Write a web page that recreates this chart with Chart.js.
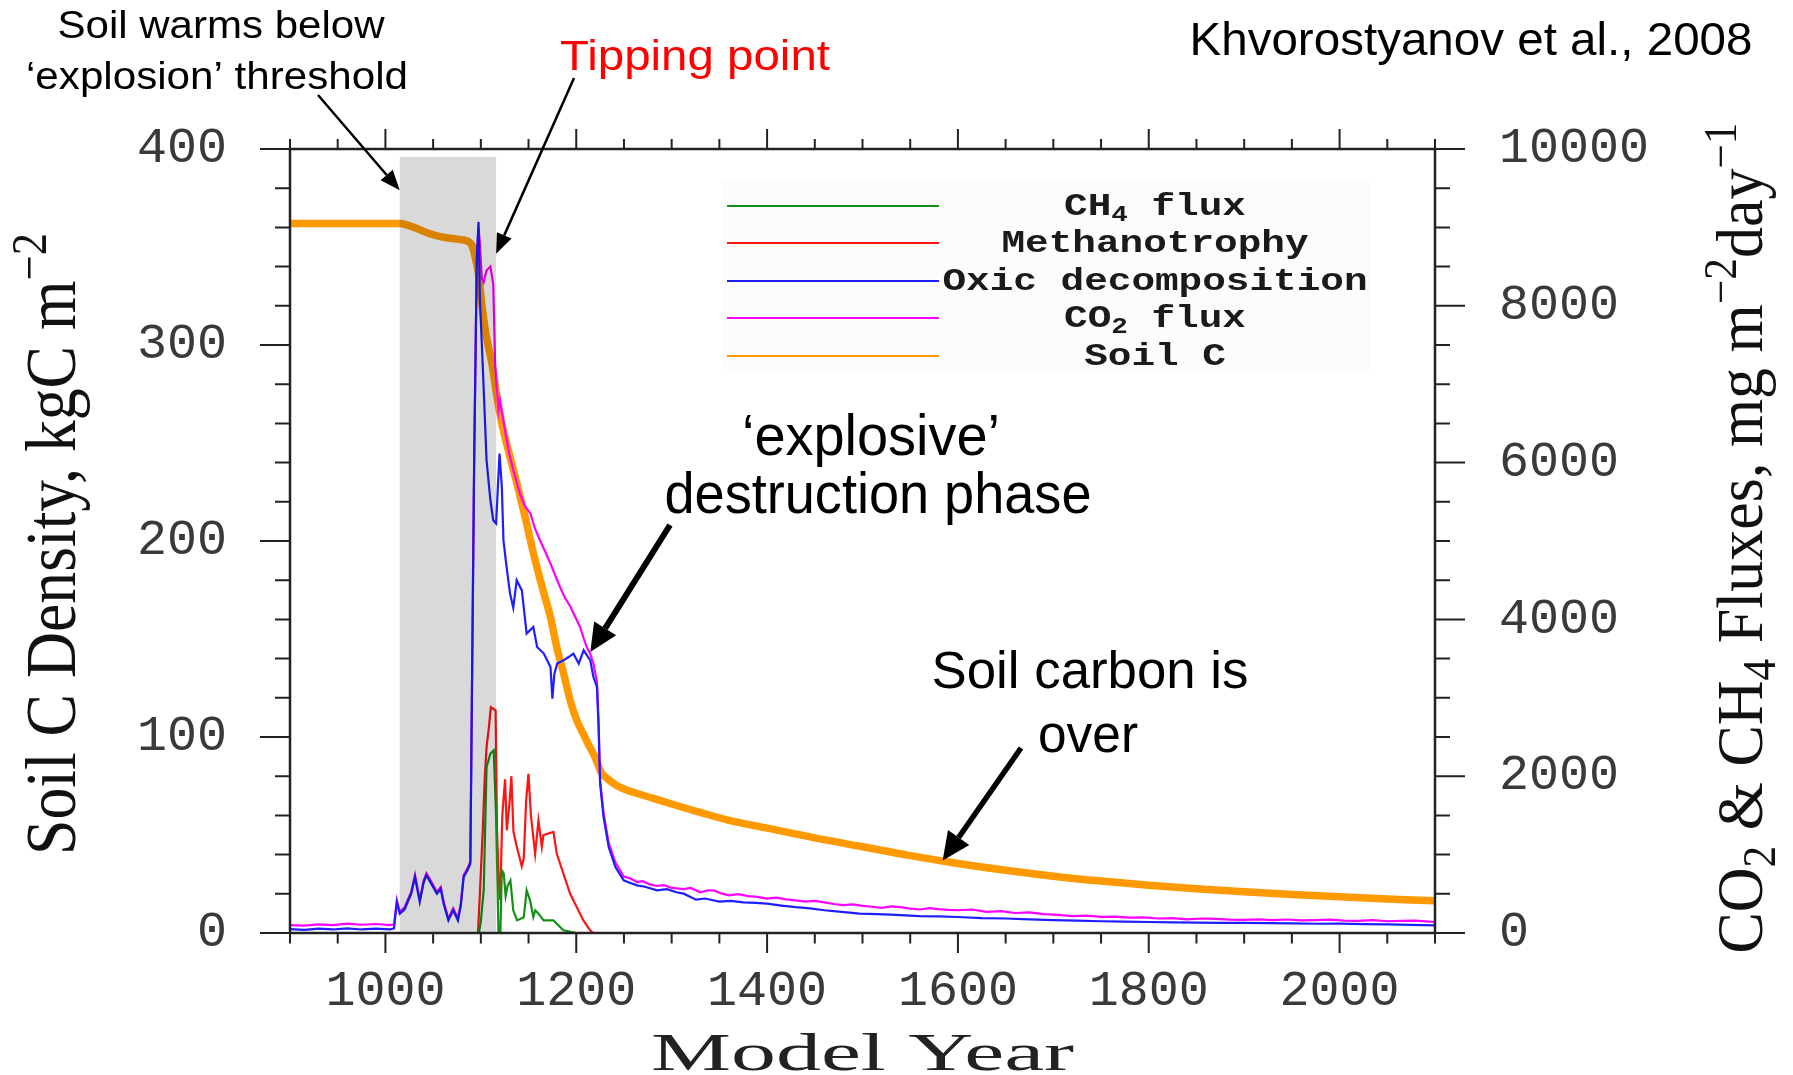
<!DOCTYPE html>
<html>
<head>
<meta charset="utf-8">
<title>Soil carbon explosion</title>
<script src="https://cdn.jsdelivr.net/npm/chart.js@4.4.1/dist/chart.umd.min.js"></script>
<style>
  html, body { margin: 0; padding: 0; background: #fff; overflow: hidden; }
  canvas { display: block; }
</style>
</head>
<body>
<canvas id="soil-chart" width="1793" height="1075"></canvas>
<script>
// values (Khvorostyanov et al., 2008)

// Soil C density, kgC m-2 (left axis)
const soilYears = [900, 1015, 1030, 1045, 1060, 1075, 1086, 1091, 1094, 1097.6, 1101, 1104.7, 1108, 1111.6, 1117, 1122, 1130, 1138, 1147, 1155, 1164, 1173, 1180, 1187, 1194, 1201, 1208, 1214, 1218, 1222, 1226, 1232, 1240, 1250, 1260, 1280, 1300, 1330, 1360, 1400, 1450, 1500, 1550, 1600, 1650, 1700, 1750, 1800, 1850, 1900, 1950, 2000, 2050, 2100];
const soilC = [362, 362, 360, 357, 355, 354, 353, 350.5, 345, 336, 321, 307.5, 299, 290.5, 273.5, 260, 244, 229, 211, 194, 177, 161, 145, 132, 118, 108, 101, 95, 91.5, 87, 82, 79, 76, 73.5, 71.8, 68.8, 65.8, 61.5, 57.5, 53.5, 48.5, 44, 39.5, 35.5, 32, 29, 26.5, 24.4, 22.6, 21, 19.7, 18.5, 17.4, 16.4];

// Oxic decomposition, mg m-2 day-1 (right axis)
const oxicYears = [900, 915, 930, 945, 960, 975, 990, 1005, 1009, 1012, 1015, 1020, 1027, 1031, 1036, 1040, 1043, 1048, 1054, 1058, 1061, 1066, 1071, 1076, 1079, 1082, 1086, 1089, 1091, 1093, 1095.8, 1097.6, 1099, 1102.8, 1106, 1110, 1113, 1116, 1119.6, 1122, 1123.7, 1127, 1130.6, 1134, 1137.6, 1143, 1148, 1155, 1159, 1166, 1173, 1175, 1177, 1180, 1186.7, 1192, 1197, 1202.6, 1207.8, 1214.7, 1218, 1221.7, 1223.4, 1225, 1228.6, 1234, 1241, 1249.7, 1256, 1263.7, 1272, 1284.7, 1295, 1305, 1312.6, 1325.5, 1335, 1350, 1362, 1375, 1388, 1400, 1415, 1430, 1445, 1460, 1478, 1497, 1515, 1530, 1545, 1560, 1580, 1600, 1625, 1650, 1675, 1700, 1725, 1750, 1775, 1800, 1825, 1850, 1875, 1900, 1925, 1950, 1975, 2000, 2025, 2050, 2075, 2100];
const oxicFlux = [50, 40, 55, 45, 60, 45, 55, 45, 60, 395, 246, 300, 500, 714, 395, 640, 735, 630, 500, 560, 374, 161, 289, 161, 350, 714, 800, 884, 3455, 6000, 8600, 9070, 8100, 7000, 6030, 5520, 5263, 5222, 6115, 5690, 5009, 4668, 4329, 4150, 4500, 4370, 3819, 3903, 3648, 3564, 3393, 2990, 3300, 3436, 3478, 3520, 3564, 3436, 3606, 3478, 3265, 3138, 2628, 1905, 1480, 1097, 842, 672, 640, 608, 590, 545, 560, 520, 502, 425, 440, 400, 410, 390, 385, 374, 350, 330, 315, 290, 270, 247, 240, 235, 225, 215, 212, 204, 190, 185, 175, 165, 158, 150, 145, 140, 135, 132, 130, 128, 126, 124, 118, 120, 112, 110, 104, 98];

// CO2 flux
const co2Years = [900, 915, 930, 945, 960, 975, 990, 1005, 1009, 1012, 1015, 1020, 1027, 1031, 1036, 1040, 1043, 1048, 1054, 1058, 1061, 1066, 1071, 1076, 1079, 1082, 1086, 1089, 1091, 1093, 1095.8, 1097.6, 1099, 1101, 1103, 1106, 1110, 1113, 1115, 1118.5, 1120, 1125.5, 1130, 1134, 1141, 1146, 1152, 1157, 1162, 1168, 1173, 1178, 1183, 1188, 1194, 1199, 1204, 1208, 1211, 1214.7, 1218, 1221.7, 1223.4, 1225, 1228.6, 1234, 1241, 1249.7, 1256, 1263.7, 1270, 1277, 1284.7, 1292, 1300, 1312.6, 1320, 1330, 1338, 1345, 1352, 1360, 1370, 1380, 1390, 1400, 1410, 1420, 1430, 1440, 1450, 1460, 1470, 1480, 1490, 1500, 1510, 1520, 1530, 1540, 1550, 1560, 1570, 1580, 1590, 1600, 1615, 1630, 1645, 1660, 1675, 1690, 1705, 1720, 1735, 1750, 1765, 1780, 1795, 1810, 1825, 1840, 1855, 1870, 1885, 1900, 1915, 1930, 1945, 1960, 1975, 1990, 2005, 2020, 2035, 2050, 2065, 2080, 2090, 2100];
const co2Flux = [100, 95, 110, 100, 120, 105, 115, 100, 110, 420, 270, 325, 525, 740, 420, 665, 760, 655, 525, 585, 400, 185, 315, 185, 375, 740, 825, 910, 3500, 6050, 8650, 9000, 8800, 8350, 8300, 8450, 8500, 8280, 7263, 6667, 6795, 6400, 6100, 5902, 5604, 5450, 5349, 5150, 5009, 4850, 4711, 4560, 4414, 4280, 4158, 4030, 3903, 3750, 3648, 3560, 3436, 3200, 2700, 1950, 1530, 1150, 900, 720, 700, 650, 660, 620, 600, 610, 575, 560, 575, 520, 545, 540, 505, 480, 495, 470, 460, 438, 450, 430, 415, 400, 410, 390, 370, 355, 365, 345, 335, 320, 340, 330, 310, 300, 318, 305, 295, 290, 300, 270, 280, 255, 262, 240, 230, 215, 222, 205, 210, 195, 200, 185, 190, 175, 185, 180, 170, 168, 175, 165, 172, 160, 165, 170, 158, 155, 163, 150, 155, 158, 148, 140];

// Methanotrophy
const methYears = [1097, 1099, 1102, 1104, 1106, 1108.5, 1110.5, 1115.5, 1117, 1119, 1120.3, 1122.5, 1125.4, 1127.2, 1130, 1132, 1134.2, 1137.7, 1142.9, 1145, 1147.5, 1149.9, 1152.5, 1156.9, 1160.4, 1163.9, 1165.6, 1176.1, 1179.6, 1193.6, 1207.5, 1214.5, 1218];
const methFlux = [0, 500, 1300, 1950, 2370, 2625, 2880, 2840, 1300, 600, 420, 1500, 1960, 1310, 1650, 2000, 1290, 1100, 850, 950, 1690, 2030, 1500, 1010, 1436, 1100, 1250, 1290, 1010, 500, 160, 34, 0];

// CH4 flux
const ch4Years = [1098, 1100, 1103, 1106, 1110, 1113.5, 1116, 1117.5, 1118.5, 1120.5, 1122, 1124, 1126, 1128, 1131, 1134, 1138, 1145, 1148, 1151.6, 1155, 1157, 1160.5, 1165.7, 1176, 1186.6, 1200];
const ch4Flux = [0, 150, 544, 2116, 2286, 2330, 1500, 600, 0, 0, 800, 760, 470, 600, 670, 289, 161, 200, 544, 416, 204, 290, 246, 161, 161, 34, 0];

// axes
const yearTicks = [1000, 1200, 1400, 1600, 1800, 2000];
const soilTicks = [0, 100, 200, 300, 400];
const fluxTicks = [0, 2000, 4000, 6000, 8000, 10000];
const yearMinorStep = 50, soilMinorStep = 20, fluxMinorStep = 500;

// grey band: years 1015-1116, up to 396 kgC m-2
const bandYears = [1015, 1116];
const bandTop = 396;

const SANS = '"Liberation Sans", Arial, sans-serif';
const SERIF = '"Liberation Serif", "Times New Roman", serif';
const MONO = '"Liberation Mono", "Courier New", monospace';

function pts(xs, ys) {
  return xs.map((x, i) => ({ x: x, y: ys[i] }));
}

// text with sub/superscripts, squeezed or stretched to a given width
function drawRich(ctx, parts, x, y, o) {
  const fontFor = kind => (o.weight || 'normal') + ' ' + (kind ? o.size * 0.7 : o.size) + 'px ' + o.family;
  let w = 0;
  parts.forEach(p => { ctx.font = fontFor(p[1]); w += ctx.measureText(p[0]).width; });
  const sx = o.width ? o.width / w : (o.sx || 1);
  ctx.save();
  ctx.translate(x, y);
  if (o.rotate) ctx.rotate(o.rotate);
  ctx.scale(sx, 1);
  ctx.fillStyle = o.color || '#000';
  ctx.textBaseline = 'alphabetic';
  ctx.textAlign = 'left';
  let cx = -w / 2;
  parts.forEach(p => {
    ctx.font = fontFor(p[1]);
    const dy = p[1] === 'sub' ? o.size * 0.2 : p[1] === 'sup' ? -o.size * 0.4 : 0;
    ctx.fillText(p[0], cx, dy);
    cx += ctx.measureText(p[0]).width;
  });
  ctx.restore();
}

function drawArrow(ctx, x0, y0, x1, y1, lw, head, half) {
  const a = Math.atan2(y1 - y0, x1 - x0);
  const bx = x1 - head * Math.cos(a), by = y1 - head * Math.sin(a);
  ctx.save();
  ctx.strokeStyle = '#000';
  ctx.fillStyle = '#000';
  ctx.lineWidth = lw;
  ctx.beginPath();
  ctx.moveTo(x0, y0);
  ctx.lineTo(bx, by);
  ctx.stroke();
  ctx.beginPath();
  ctx.moveTo(x1, y1);
  ctx.lineTo(bx + half * Math.sin(a), by - half * Math.cos(a));
  ctx.lineTo(bx - half * Math.sin(a), by + half * Math.cos(a));
  ctx.closePath();
  ctx.fill();
  ctx.restore();
}

const notes = [
  { text: 'Soil warms below', x: 221, y: 38, size: 38, width: 327 },
  { text: '\u2018explosion\u2019 threshold', x: 217, y: 89, size: 38, width: 382 },
  { text: 'Tipping point', x: 695, y: 70, size: 43, width: 270, color: '#ff0000' },
  { text: 'Khvorostyanov et al., 2008', x: 1471, y: 55, size: 46, width: 563 },
  { text: '\u2018explosive\u2019', x: 871, y: 455, size: 57, width: 258 },
  { text: 'destruction phase', x: 878, y: 513, size: 57, width: 427 },
  { text: 'Soil carbon is', x: 1090, y: 688, size: 51, width: 317 },
  { text: 'over', x: 1088, y: 752, size: 51, width: 100 }
];

// arrows: start in page pixels, tip in data units
const arrows = [
  { from: [318, 95], year: 1015, value: 379, axis: 'y', lw: 2.5, head: 20, half: 8 },
  { from: [574, 78], year: 1116, value: 346.6, axis: 'y', lw: 2.5, head: 20, half: 8 },
  { from: [670, 525], year: 1214.7, value: 3584, axis: 'y1', lw: 6, head: 28, half: 13 },
  { from: [1021, 748], year: 1584, value: 37, axis: 'y', lw: 5.5, head: 28, half: 13 }
];

const legendRows = [
  [['CH', ''], ['4', 'sub'], [' flux', '']],
  [['Methanotrophy', '']],
  [['Oxic decomposition', '']],
  [['CO', ''], ['2', 'sub'], [' flux', '']],
  [['Soil C', '']]
];

const bandPlugin = {
  id: 'band',
  afterDatasetsDraw(chart) {
    const { ctx, scales } = chart;
    const x0 = scales.x.getPixelForValue(bandYears[0]);
    const x1 = scales.x.getPixelForValue(bandYears[1]);
    const y0 = scales.y.getPixelForValue(bandTop);
    const y1 = scales.y.getPixelForValue(0);
    ctx.save();
    ctx.fillStyle = 'rgba(0, 0, 0, 0.15)';
    ctx.fillRect(x0, y0, x1 - x0, y1 - y0);
    ctx.restore();
  }
};

const framePlugin = {
  id: 'frame',
  afterDraw(chart) {
    const { ctx, chartArea: a, scales } = chart;
    ctx.save();
    ctx.strokeStyle = '#222';
    ctx.lineWidth = 2.5;
    ctx.strokeRect(a.left, a.top, a.right - a.left, a.bottom - a.top);
    ctx.lineWidth = 2;
    ctx.beginPath();
    for (let v = scales.x.min; v <= scales.x.max; v += yearMinorStep) {
      const px = scales.x.getPixelForValue(v);
      const major = yearTicks.includes(v);
      ctx.moveTo(px, a.bottom);
      ctx.lineTo(px, a.bottom + (major ? 20 : 10.5));
      ctx.moveTo(px, a.top);
      ctx.lineTo(px, a.top - (major ? 20 : 10));
    }
    for (let v = scales.y.min; v <= scales.y.max; v += soilMinorStep) {
      const py = scales.y.getPixelForValue(v);
      ctx.moveTo(a.left, py);
      ctx.lineTo(a.left - (soilTicks.includes(v) ? 30 : 15), py);
    }
    for (let v = scales.y1.min; v <= scales.y1.max; v += fluxMinorStep) {
      const py = scales.y1.getPixelForValue(v);
      ctx.moveTo(a.right, py);
      ctx.lineTo(a.right + (fluxTicks.includes(v) ? 30 : 15), py);
    }
    ctx.stroke();
    ctx.restore();

    // axis titles
    drawRich(ctx, [['Soil C Density, kgC m', ''], ['\u22122', 'sup']], 75, 544,
      { size: 72, family: SERIF, width: 622, rotate: -Math.PI / 2, color: '#111' });
    drawRich(ctx, [['CO', ''], ['2', 'sub'], [' & CH', ''], ['4', 'sub'], [' Fluxes, mg m', ''], ['\u22122', 'sup'], ['day', ''], ['\u22121', 'sup']],
      1762, 538, { size: 66, family: SERIF, width: 831, rotate: -Math.PI / 2, color: '#111' });
    drawRich(ctx, [['Model Year', '']], (a.left + a.right) / 2, 1070,
      { size: 52, family: SERIF, width: 423, color: '#222' });
  }
};

const notesPlugin = {
  id: 'notes',
  afterDraw(chart) {
    const { ctx, scales } = chart;

    // legend box, rows in dataset order
    ctx.save();
    ctx.fillStyle = '#fcfcfc';
    ctx.fillRect(722, 180, 648, 194);
    const rowY = [206, 243, 281, 318, 356];
    chart.data.datasets.forEach((ds, i) => {
      ctx.strokeStyle = ds.borderColor;
      ctx.lineWidth = 2;
      ctx.beginPath();
      ctx.moveTo(727, rowY[i]);
      ctx.lineTo(939, rowY[i]);
      ctx.stroke();
    });
    ctx.restore();
    legendRows.forEach((parts, i) => {
      drawRich(ctx, parts, 1155, rowY[i] + 9, { size: 32, family: MONO, weight: 'bold', sx: 1.23, color: '#1a1a1a' });
    });

    notes.forEach(n => {
      drawRich(ctx, [[n.text, '']], n.x, n.y, { size: n.size, family: SANS, width: n.width, color: n.color || '#000' });
    });

    arrows.forEach(ar => {
      const tx = scales.x.getPixelForValue(ar.year);
      const ty = scales[ar.axis].getPixelForValue(ar.value);
      drawArrow(ctx, ar.from[0], ar.from[1], tx, ty, ar.lw, ar.head, ar.half);
    });
  }
};

const tickFont = { family: MONO, size: 50 };

let soilCanvas = document.getElementById('soil-chart');

let soilChart = new Chart(soilCanvas.getContext('2d'), {
  type: 'line',
  data: {
    datasets: [{
      label: 'CH4 flux',
      data: pts(ch4Years, ch4Flux),
      yAxisID: 'y1',
      borderColor: 'rgb(20, 145, 20)',
      borderWidth: 2.2,
      order: 1
    }, {
      label: 'Methanotrophy',
      data: pts(methYears, methFlux),
      yAxisID: 'y1',
      borderColor: 'rgb(255, 20, 20)',
      borderWidth: 2.2,
      order: 2
    }, {
      label: 'Oxic decomposition',
      data: pts(oxicYears, oxicFlux),
      yAxisID: 'y1',
      borderColor: 'rgb(30, 30, 255)',
      borderWidth: 2.2,
      order: 3
    }, {
      label: 'CO2 flux',
      data: pts(co2Years, co2Flux),
      yAxisID: 'y1',
      borderColor: 'rgb(255, 0, 255)',
      borderWidth: 2.2,
      order: 4
    }, {
      label: 'Soil C',
      data: pts(soilYears, soilC),
      yAxisID: 'y',
      borderColor: 'rgb(255, 153, 0)',
      borderWidth: 7.5,
      cubicInterpolationMode: 'monotone',
      order: 5
    }]
  },
  options: {
    responsive: false,
    animation: false,
    events: [],
    elements: {
      point: { radius: 0 },
      line: { tension: 0, borderJoinStyle: 'miter', fill: false }
    },
    layout: { padding: { top: 149, left: 0, right: 0, bottom: 0 } },
    plugins: {
      legend: { display: false },
      tooltip: { enabled: false }
    },
    scales: {
      x: {
        type: 'linear',
        position: 'bottom',
        min: 900,
        max: 2100,
        afterBuildTicks: axis => { axis.ticks = yearTicks.map(v => ({ value: v })); },
        afterFit: axis => { axis.height = 142; },
        grid: { display: false, drawTicks: false },
        border: { display: false },
        ticks: { font: tickFont, color: '#3a3a3a', padding: 29, autoSkip: false, maxRotation: 0, callback: v => String(v) }
      },
      y: {
        type: 'linear',
        position: 'left',
        min: 0,
        max: 400,
        afterBuildTicks: axis => { axis.ticks = soilTicks.map(v => ({ value: v })); },
        afterFit: axis => { axis.width = 290; },
        grid: { display: false, drawTicks: false },
        border: { display: false },
        ticks: { font: tickFont, color: '#3a3a3a', padding: 63, callback: v => String(v) }
      },
      y1: {
        type: 'linear',
        position: 'right',
        min: 0,
        max: 10000,
        afterBuildTicks: axis => { axis.ticks = fluxTicks.map(v => ({ value: v })); },
        afterFit: axis => { axis.width = 358; },
        grid: { display: false, drawTicks: false },
        border: { display: false },
        ticks: { font: tickFont, color: '#3a3a3a', padding: 64, callback: v => String(v) }
      }
    }
  },
  plugins: [bandPlugin, framePlugin, notesPlugin]
});
</script>
</body>
</html>
